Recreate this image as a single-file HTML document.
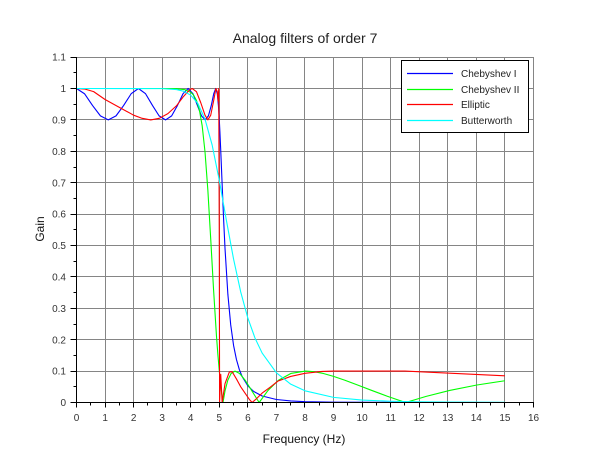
<!DOCTYPE html>
<html><head><meta charset="utf-8">
<style>
html,body{margin:0;padding:0;background:#fff;}
svg{display:block;font-family:"Liberation Sans",Arial,sans-serif;}
</style></head>
<body>
<svg width="610" height="460" viewBox="0 0 610 460" xmlns="http://www.w3.org/2000/svg">
<defs><clipPath id="c"><rect x="76" y="50" width="459" height="353"/></clipPath></defs>
<rect width="610" height="460" fill="#fff"/>

<path fill="none" stroke="#858585" stroke-width="1" shape-rendering="crispEdges" d="M105.5 57V402M133.5 57V402M162.5 57V402M190.5 57V402M219.5 57V402M247.5 57V402M276.5 57V402M304.5 57V402M333.5 57V402M362.5 57V402M390.5 57V402M419.5 57V402M447.5 57V402M476.5 57V402M504.5 57V402M533.5 57V402M76 371.5H534M76 339.5H534M76 308.5H534M76 276.5H534M76 245.5H534M76 214.5H534M76 182.5H534M76 151.5H534M76 119.5H534M76 88.5H534M76 57.5H534"/>

<g fill="none" stroke-width="1.1" clip-path="url(#c)" stroke-linejoin="round">
<path stroke="#0000ff" d="M76.5 88.5L84.51 93.74L92.49 105.43L100.42 115.88L108.28 119.9L116.03 115.88L123.66 105.43L131.15 93.74L138.46 88.5L145.56 93.74L152.48 105.43L159.1 115.88L165.54 119.9L171.65 115.88L177.47 105.43L183 93.74L188.15 88.5L192.95 93.74L197.41 105.43L201.48 115.88L205.16 119.9L208.41 115.88L211.29 105.43L213.73 93.74L215.72 88.5L217.28 93.74L218.4 105.43L219.08 115.88L219.3 119.9L219.87 131.17L220.73 150.26L222.16 184.84L223.58 218.56L225.01 248.45L227.87 294.36L230.72 324.97L233.58 345.48L236.44 359.51L239.29 369.44L242.15 376.59L247.86 385.89L253.57 391.38L262.14 396L276.42 399.49L290.7 400.96L304.98 401.65L333.54 402.2L504.9 402.5"/>
<path stroke="#00ff00" d="M76.5 88.5L162.18 88.5L176.46 88.72L185.03 89.7L190.74 92.27L193.6 95.12L196.45 100.33L199.31 109.6L202.16 125.65L205.02 152L207.88 190.58L210.73 239.16L213.59 290.15L216.44 335.49L217.87 354.58L219.3 371.1L219.53 373.47L220.21 380.24L221.35 390.43L222.97 402.5L225.11 390.43L227.79 380.24L231.07 373.47L235 371.1L239.66 373.47L245.15 380.24L251.61 390.43L259.15 402.5L268 390.43L278.45 380.24L290.82 373.47L305.53 371.1L314 371.7L323.39 373.47L333.54 376.35L344.92 380.24L357.56 384.99L371.77 390.43L387.63 396.35L405.62 402.5L426.16 396.35L449.66 390.43L476.91 384.99L504.9 380.74"/>
<path stroke="#ff0000" d="M76.5 88.5L85.07 89.13L93.64 91.64L105.06 99.49L119.34 107.34L133.62 115.19L142.19 118.33L150.76 119.9L159.32 118.33L167.89 113.62L176.46 105.77L183.6 96.35L189.31 90.07L192.17 88.5L196.45 91.64L200.74 102.63L205.02 115.19L207.88 119.9L210.73 115.19L213.59 101.06L215.87 88.5L217.3 91.64L218.16 101.06L218.73 88.5L219.3 245.5L219.59 402.5L220.73 374.24L222.16 402.5L225.01 383.66L229.3 372.04L232.15 371.73L236.44 378.95L240.72 386.8L245 393.08L249.29 399.36L252.14 402.5L256.43 398.73L262.14 393.08L270.71 386.8L277.85 381.15L290.7 376.44L304.98 373.3L322.12 371.41L333.54 371.1L404.94 371.1L504.9 375.81"/>
<path stroke="#00ffff" d="M76.5 88.5L162.18 88.62L176.46 89.56L183.6 91.26L190.74 95.18L197.88 103.49L205.02 119.23L212.16 145.07L219.3 180.47L226.44 220.6L233.58 259.15L240.72 291.98L247.86 318.09L255 338.05L262.14 353.07L276.42 372.84L290.7 384.15L304.98 390.81L333.54 397.37L362.1 400.05L390.66 401.24L419.22 401.82L447.78 402.1L504.9 402.36"/>
</g>

<path fill="none" stroke="#000" stroke-width="1" shape-rendering="crispEdges" d="M76.5 57V403M76 402.5H534M70.5 402.5H76.5M73.5 386.5H76.5M70.5 371.5H76.5M73.5 355.5H76.5M70.5 339.5H76.5M73.5 324.5H76.5M70.5 308.5H76.5M73.5 292.5H76.5M70.5 276.5H76.5M73.5 261.5H76.5M70.5 245.5H76.5M73.5 229.5H76.5M70.5 214.5H76.5M73.5 198.5H76.5M70.5 182.5H76.5M73.5 167.5H76.5M70.5 151.5H76.5M73.5 135.5H76.5M70.5 119.5H76.5M73.5 104.5H76.5M70.5 88.5H76.5M73.5 72.5H76.5M70.5 57.5H76.5M76.5 402V407.5M90.5 402V405.5M105.5 402V407.5M119.5 402V405.5M133.5 402V407.5M147.5 402V405.5M162.5 402V407.5M176.5 402V405.5M190.5 402V407.5M205.5 402V405.5M219.5 402V407.5M233.5 402V405.5M247.5 402V407.5M262.5 402V405.5M276.5 402V407.5M290.5 402V405.5M304.5 402V407.5M319.5 402V405.5M333.5 402V407.5M347.5 402V405.5M362.5 402V407.5M376.5 402V405.5M390.5 402V407.5M404.5 402V405.5M419.5 402V407.5M433.5 402V405.5M447.5 402V407.5M462.5 402V405.5M476.5 402V407.5M490.5 402V405.5M504.5 402V407.5M519.5 402V405.5M533.5 402V407.5"/>

<text x="305" y="43" font-size="14" text-anchor="middle" fill="#222">Analog filters of order 7</text>
<text x="304" y="443" font-size="12" text-anchor="middle" fill="#111">Frequency (Hz)</text>
<text transform="translate(44,229) rotate(-90)" font-size="12" text-anchor="middle" fill="#111">Gain</text>

<g font-size="10" fill="#333" text-anchor="end">
<text x="66" y="406.1">0</text>
<text x="66" y="374.7">0.1</text>
<text x="66" y="343.3">0.2</text>
<text x="66" y="311.9">0.3</text>
<text x="66" y="280.5">0.4</text>
<text x="66" y="249.1">0.5</text>
<text x="66" y="217.7">0.6</text>
<text x="66" y="186.3">0.7</text>
<text x="66" y="154.9">0.8</text>
<text x="66" y="123.5">0.9</text>
<text x="66" y="92.1">1</text>
<text x="66" y="60.7">1.1</text>
</g>
<g font-size="10" fill="#333" text-anchor="middle">
<text x="76.5" y="421">0</text>
<text x="105.1" y="421">1</text>
<text x="133.6" y="421">2</text>
<text x="162.2" y="421">3</text>
<text x="190.7" y="421">4</text>
<text x="219.3" y="421">5</text>
<text x="247.9" y="421">6</text>
<text x="276.4" y="421">7</text>
<text x="305" y="421">8</text>
<text x="333.5" y="421">9</text>
<text x="362.1" y="421">10</text>
<text x="390.7" y="421">11</text>
<text x="419.2" y="421">12</text>
<text x="447.8" y="421">13</text>
<text x="476.3" y="421">14</text>
<text x="504.9" y="421">15</text>
<text x="533.5" y="421">16</text>
</g>

<rect x="401.5" y="60.5" width="127" height="72" fill="#fff" stroke="#000" stroke-width="1" shape-rendering="crispEdges"/>
<g stroke-width="1.3">
<line x1="407" y1="73.5" x2="453" y2="73.5" stroke="rgb(0,0,255)"/>
<line x1="407" y1="89.5" x2="453" y2="89.5" stroke="rgb(0,255,0)"/>
<line x1="407" y1="104.5" x2="453" y2="104.5" stroke="rgb(255,0,0)"/>
<line x1="407" y1="120.5" x2="453" y2="120.5" stroke="rgb(0,255,255)"/>
</g>
<g font-size="10" fill="#222">
<text x="461" y="77">Chebyshev I</text>
<text x="461" y="93">Chebyshev II</text>
<text x="461" y="108">Elliptic</text>
<text x="461" y="124">Butterworth</text>
</g>
</svg>
</body></html>
